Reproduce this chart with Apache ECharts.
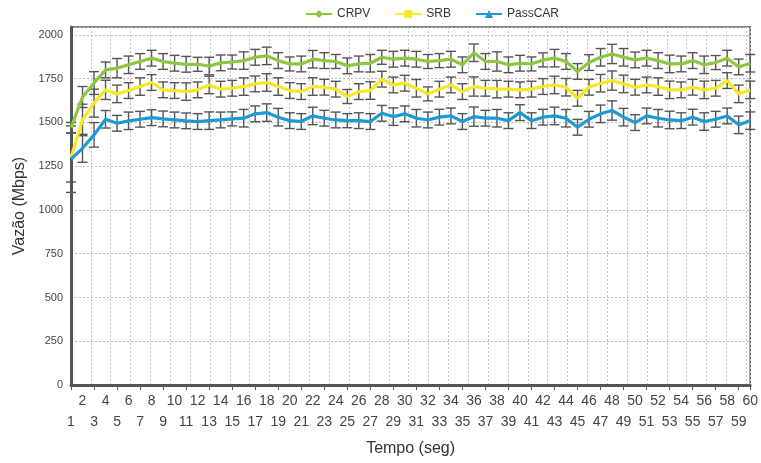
<!DOCTYPE html>
<html>
<head>
<meta charset="utf-8">
<script src="https://cdn.jsdelivr.net/npm/echarts@6/dist/echarts.min.js"></script>
<style>html,body{margin:0;padding:0;background:#fff}#c{width:761px;height:463px}</style>
</head>
<body>
<div id="c"></div>
<script>
var categories = ['1','2','3','4','5','6','7','8','9','10','11','12','13','14','15','16','17','18','19','20',
  '21','22','23','24','25','26','27','28','29','30','31','32','33','34','35','36','37','38','39','40',
  '41','42','43','44','45','46','47','48','49','50','51','52','53','54','55','56','57','58','59','60'];
var yTicks = [0, 250, 500, 750, 1000, 1250, 1500, 1750, 2000];

var crpv = [1470,1645,1725,1800,1810,1829,1848,1867,1848,1838,1832,1832,1822,1840,1845,1853,1872,1880,1853,1834,
  1834,1861,1853,1848,1823,1834,1838,1872,1861,1867,1861,1848,1853,1861,1829,1898,1848,1848,1829,1838,
  1834,1857,1867,1848,1791,1842,1872,1891,1872,1857,1867,1853,1834,1834,1853,1829,1842,1867,1817,1838];
var srb = [1300,1514,1610,1686,1663,1682,1705,1728,1686,1682,1676,1686,1714,1690,1695,1705,1720,1728,1705,1682,
  1676,1705,1701,1690,1648,1676,1682,1747,1714,1724,1695,1663,1690,1714,1676,1705,1695,1690,1690,1686,
  1690,1705,1714,1701,1638,1701,1724,1739,1720,1701,1714,1705,1686,1686,1701,1686,1695,1739,1663,1686];
var passcar = [1290,1352,1429,1518,1495,1509,1518,1527,1520,1514,1509,1505,1510,1514,1520,1524,1549,1556,1530,1510,
  1505,1537,1524,1514,1510,1510,1505,1552,1533,1549,1524,1514,1530,1537,1505,1533,1524,1524,1510,1556,
  1510,1530,1537,1524,1472,1518,1549,1568,1530,1499,1537,1524,1514,1510,1530,1505,1518,1537,1486,1510];

var crpvErr = [30,60,65,45,55,50,45,45,45,45,45,40,50,45,40,50,45,50,45,40,45,50,45,40,45,45,50,40,45,45,
  45,40,40,45,45,50,45,55,45,45,40,40,50,45,45,45,50,55,50,45,45,45,50,45,45,50,40,45,45,50];
var srbErr = [140,90,80,55,50,45,50,45,45,45,50,45,50,45,45,50,45,50,50,45,45,50,45,45,40,45,50,45,45,45,
  50,40,45,45,45,55,45,50,45,45,45,45,50,50,45,45,50,55,50,45,45,50,50,45,45,50,45,45,50,50];
var passcarErr = [190,80,70,50,45,50,45,45,45,45,45,45,50,45,40,50,45,50,50,45,45,50,45,45,40,45,45,45,50,45,
  50,45,45,45,45,55,45,50,45,45,45,45,50,50,45,45,50,55,50,45,45,50,50,45,45,50,45,45,50,50];

var colors = {crpv:'#8dc63f', srb:'#f5e824', passcar:'#1b9ad6'};

function errData(vals, errs) {
  return vals.map(function (v, i) { return [i, v - errs[i], v + errs[i]]; });
}
function renderErr(params, api) {
  var x = api.value(0);
  var lo = api.coord([x, api.value(1)]);
  var hi = api.coord([x, api.value(2)]);
  var w = 5;
  var st = {stroke:'#555', lineWidth:1.4};
  return {type:'group', children:[
    {type:'line', shape:{x1:lo[0], y1:lo[1], x2:hi[0], y2:hi[1]}, style:st},
    {type:'line', shape:{x1:lo[0]-w, y1:lo[1], x2:lo[0]+w, y2:lo[1]}, style:st},
    {type:'line', shape:{x1:hi[0]-w, y1:hi[1], x2:hi[0]+w, y2:hi[1]}, style:st}
  ]};
}

var chart = echarts.init(document.getElementById('c'), null, {renderer:'canvas'});
chart.setOption({
  animation:false,
  backgroundColor:'#fff',
  legend:{
    top:3, left:300, itemWidth:26, itemHeight:10, itemGap:24,
    textStyle:{fontSize:12, color:'#333', fontFamily:'Liberation Sans'},
    data:['CRPV','SRB','PassCAR']
  },
  grid:{left:71, right:6, top:27, bottom:78, show:true, borderColor:'#555', borderWidth:1.5},
  xAxis:[{
    type:'category', data:categories, boundaryGap:false,
    axisLine:{lineStyle:{color:'#555', width:3}},
    axisTick:{show:true, interval:1, length:5, lineStyle:{color:'#555'}},
    axisLabel:{interval:0, color:'#444', fontSize:14, fontFamily:'Liberation Sans', lineHeight:21, margin:6,
      formatter:function (v) { return (+v % 2 === 1) ? '\n' + v : v; }},
    splitLine:{show:false},
    name:'Tempo (seg)', nameLocation:'middle', nameGap:56,
    nameTextStyle:{fontSize:16, color:'#333', fontFamily:'Liberation Sans'}
  },{
    type:'value', position:'top', min:0, max:34.2, interval:1,
    axisLine:{show:false}, axisTick:{show:false}, axisLabel:{show:false},
    splitLine:{show:true, lineStyle:{color:'#c4c4c4', type:[2,2], width:1}}
  }],
  yAxis:{
    type:'value', min:0, max:2045, interval:250,
    axisLine:{show:true, lineStyle:{color:'#555', width:3}},
    axisTick:{show:false},
    axisLabel:{color:'#444', fontSize:11, fontFamily:'Liberation Sans', margin:8,
      formatter:function (v) { return yTicks.indexOf(v) >= 0 ? String(v) : ''; }},
    splitLine:{show:true, lineStyle:{color:'#bbb', type:[2,2], width:1}},
    name:'Vazão (Mbps)', nameLocation:'middle', nameGap:37,
    nameTextStyle:{fontSize:16, color:'#333', fontFamily:'Liberation Sans'}
  },
  series:[
    {type:'custom', name:'errCRPV', renderItem:renderErr, data:errData(crpv, crpvErr), z:2, silent:true},
    {type:'custom', name:'errSRB', renderItem:renderErr, data:errData(srb, srbErr), z:2, silent:true},
    {type:'custom', name:'errPass', renderItem:renderErr, data:errData(passcar, passcarErr), z:2, silent:true},
    {type:'line', name:'CRPV', data:crpv, symbol:'diamond', symbolSize:7, showSymbol:false,
      lineStyle:{color:colors.crpv, width:3.2}, itemStyle:{color:colors.crpv}, z:5},
    {type:'line', name:'SRB', data:srb, symbol:'rect', symbolSize:7, showSymbol:false,
      lineStyle:{color:colors.srb, width:3.2}, itemStyle:{color:colors.srb}, z:5},
    {type:'line', name:'PassCAR', data:passcar, symbol:'triangle', symbolSize:8, showSymbol:false,
      lineStyle:{color:colors.passcar, width:3.2}, itemStyle:{color:colors.passcar}, z:5}
  ]
});
</script>
</body>
</html>
